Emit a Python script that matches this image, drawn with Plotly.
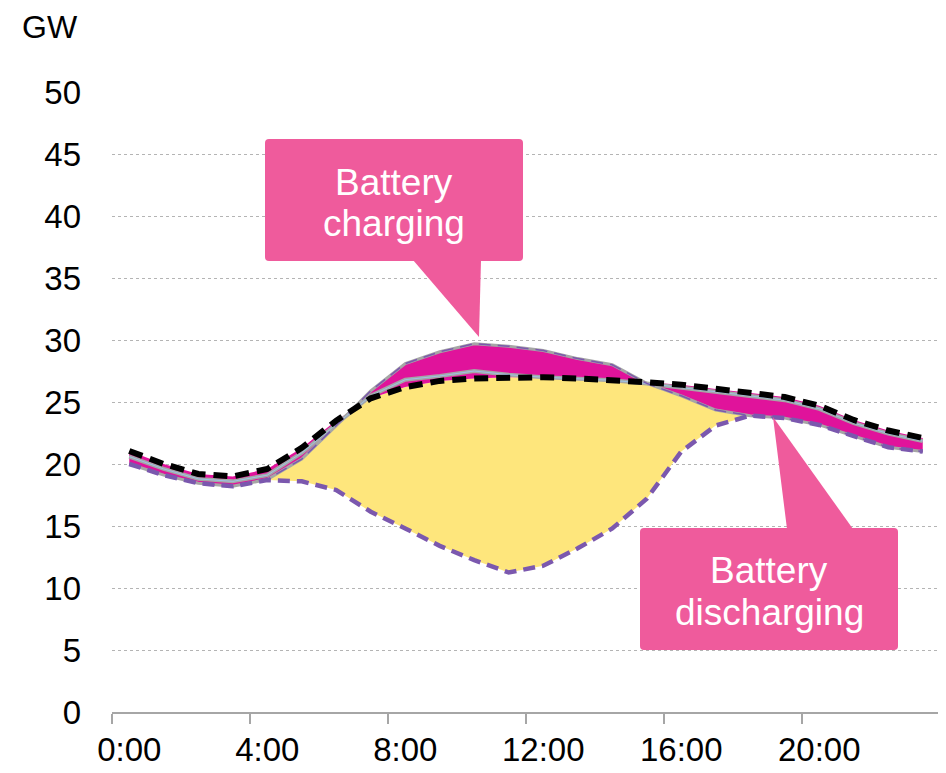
import plotly.graph_objects as go

# ---------------- data (GW, one value per hourly category 0:00 .. 23:00) ----------------
hour_index = list(range(24))
tick_positions = [0, 4, 8, 12, 16, 20]
tick_labels = ["0:00", "4:00", "8:00", "12:00", "16:00", "20:00"]
y_ticks = [0, 5, 10, 15, 20, 25, 30, 35, 40, 45, 50]

demand = [21.05, 20.0, 19.2, 19.0, 19.6, 21.3, 23.5, 25.3, 26.2, 26.7, 26.9, 27.0,
          27.0, 26.9, 26.8, 26.6, 26.4, 26.05, 25.7, 25.4, 24.7, 23.55, 22.7, 22.1]
grey_line = [20.6, 19.6, 18.8, 18.6, 19.1, 20.9, 23.2, 25.5, 26.8, 27.1, 27.5, 27.2,
             27.0, 26.9, 26.75, 26.5, 26.15, 25.8, 25.45, 25.15, 24.45, 23.3, 22.45, 21.85]
with_battery = [20.0, 19.1, 18.45, 18.2, 18.75, 20.4, 23.1, 25.9, 28.1, 29.05, 29.7, 29.5,
                29.15, 28.5, 28.0, 26.5, 25.5, 24.35, 23.9, 23.7, 23.15, 22.25, 21.35, 21.0]
net_load = [20.0, 19.1, 18.45, 18.2, 18.7, 18.6, 17.9, 16.15, 14.8, 13.4, 12.25, 11.25,
            11.8, 13.2, 14.8, 17.2, 21.0, 23.1, 23.9, 23.7, 23.15, 22.25, 21.35, 21.0]

solar_top = [min(d, u) for d, u in zip(demand, with_battery)]

YELLOW = "#FEE67C"
MAGENTA = "#E0139B"
PURPLE = "#7B58AE"
GREY = "#A6A6A6"
CALLOUT = "#EF5B9C"

fig = go.Figure()
# yellow solar area
fig.add_trace(go.Scatter(x=hour_index, y=net_load, mode="lines", line=dict(width=0),
                         hoverinfo="skip"))
fig.add_trace(go.Scatter(x=hour_index, y=solar_top, mode="lines", line=dict(width=0),
                         fill="tonexty", fillcolor=YELLOW, hoverinfo="skip"))
# magenta battery area
fig.add_trace(go.Scatter(x=hour_index, y=demand, mode="lines", line=dict(width=0),
                         hoverinfo="skip"))
fig.add_trace(go.Scatter(x=hour_index, y=with_battery, mode="lines", line=dict(width=0),
                         fill="tonexty", fillcolor=MAGENTA, hoverinfo="skip"))
# grey outlines
fig.add_trace(go.Scatter(x=hour_index, y=with_battery, mode="lines",
                         line=dict(color=GREY, width=3)))
fig.add_trace(go.Scatter(x=hour_index, y=grey_line, mode="lines",
                         line=dict(color=GREY, width=4)))
fig.add_trace(go.Scatter(x=hour_index, y=grey_line, mode="lines",
                         line=dict(color="#9DC3E6", width=1)))
# purple dashed lines
fig.add_trace(go.Scatter(x=hour_index, y=net_load, mode="lines",
                         line=dict(color=PURPLE, width=4.5, dash="12px,7px")))
fig.add_trace(go.Scatter(x=hour_index, y=with_battery, mode="lines",
                         line=dict(color=PURPLE, width=1.5, dash="12px,7px")))
# black dashed demand
fig.add_trace(go.Scatter(x=hour_index, y=demand, mode="lines",
                         line=dict(color="black", width=6, dash="14px,8px")))

# ---------------- layout ----------------
# page offset introduced by the default body margin of the html page
OFF = 8
W, H = 946, 773
L, R, T, B = 112 - OFF, 940 - OFF, 92 - OFF, 712 - OFF


def px(xp):
    return (xp - OFF - L) / (R - L)


def py(yp):
    return (B - (yp - OFF)) / (B - T)


def rounded_rect(x0, y0, x1, y1, r=4):
    pts = [
        f"M {px(x0 + r)} {py(y0)}",
        f"L {px(x1 - r)} {py(y0)}",
        f"Q {px(x1)} {py(y0)} {px(x1)} {py(y0 + r)}",
        f"L {px(x1)} {py(y1 - r)}",
        f"Q {px(x1)} {py(y1)} {px(x1 - r)} {py(y1)}",
        f"L {px(x0 + r)} {py(y1)}",
        f"Q {px(x0)} {py(y1)} {px(x0)} {py(y1 - r)}",
        f"L {px(x0)} {py(y0 + r)}",
        f"Q {px(x0)} {py(y0)} {px(x0 + r)} {py(y0)}",
        "Z",
    ]
    return " ".join(pts)


def tri(p1, p2, p3):
    return (f"M {px(p1[0])} {py(p1[1])} L {px(p2[0])} {py(p2[1])} "
            f"L {px(p3[0])} {py(p3[1])} Z")


shapes = [
    dict(type="path", xref="paper", yref="paper", path=rounded_rect(265, 139, 523, 261),
         fillcolor=CALLOUT, line=dict(width=0), layer="above"),
    dict(type="path", xref="paper", yref="paper",
         path=tri((413, 260), (481, 260), (479, 337)),
         fillcolor=CALLOUT, line=dict(width=0), layer="above"),
    dict(type="path", xref="paper", yref="paper", path=rounded_rect(640, 528, 898, 650),
         fillcolor=CALLOUT, line=dict(width=0), layer="above"),
    dict(type="path", xref="paper", yref="paper",
         path=tri((773, 417), (787, 529), (853, 529)),
         fillcolor=CALLOUT, line=dict(width=0), layer="above"),
]

FONT = "Liberation Sans, Arial, sans-serif"
annotations = [
    dict(text="GW", xref="paper", yref="paper", x=px(50), y=py(27), showarrow=False,
         xanchor="center", yanchor="middle", borderpad=0,
         font=dict(size=32, color="black", family=FONT)),
    dict(text="Battery", xref="paper", yref="paper", x=px(394), y=py(182), showarrow=False,
         xanchor="center", yanchor="middle", font=dict(size=37, color="white", family=FONT)),
    dict(text="charging", xref="paper", yref="paper", x=px(394), y=py(223), showarrow=False,
         xanchor="center", yanchor="middle", font=dict(size=37, color="white", family=FONT)),
    dict(text="Battery", xref="paper", yref="paper", x=px(769), y=py(570), showarrow=False,
         xanchor="center", yanchor="middle", font=dict(size=37, color="white", family=FONT)),
    dict(text="discharging", xref="paper", yref="paper", x=px(769), y=py(612), showarrow=False,
         xanchor="center", yanchor="middle", font=dict(size=37, color="white", family=FONT)),
]

fig.update_layout(
    width=W, height=H,
    margin=dict(l=L, r=W - R, t=T, b=H - B),
    paper_bgcolor="white", plot_bgcolor="white",
    showlegend=False,
    font=dict(family=FONT, color="black"),
    shapes=shapes,
    annotations=annotations,
    xaxis=dict(
        range=[-0.5, 23.5], tickmode="array", tickvals=tick_positions, ticktext=tick_labels,
        ticks="", showgrid=False, zeroline=False,
        showline=True, linecolor=GREY, linewidth=1.5,
        tickfont=dict(size=33, color="black", family=FONT),
        ticklabelstandoff=8,
        minor=dict(tickmode="array", tickvals=[-0.5, 3.5, 7.5, 11.5, 15.5, 19.5, 23.5],
                   ticks="outside", ticklen=10, tickcolor=GREY, tickwidth=1.5,
                   showgrid=False),
    ),
    yaxis=dict(
        range=[0, 50], tickmode="array", tickvals=y_ticks,
        showgrid=True, gridcolor="#B4B4B4", griddash="dot", gridwidth=1,
        zeroline=False, showline=False, ticks="",
        tickfont=dict(size=33, color="black", family=FONT),
        ticklabelstandoff=30,
    ),
)

fig.write_html("out.html")
